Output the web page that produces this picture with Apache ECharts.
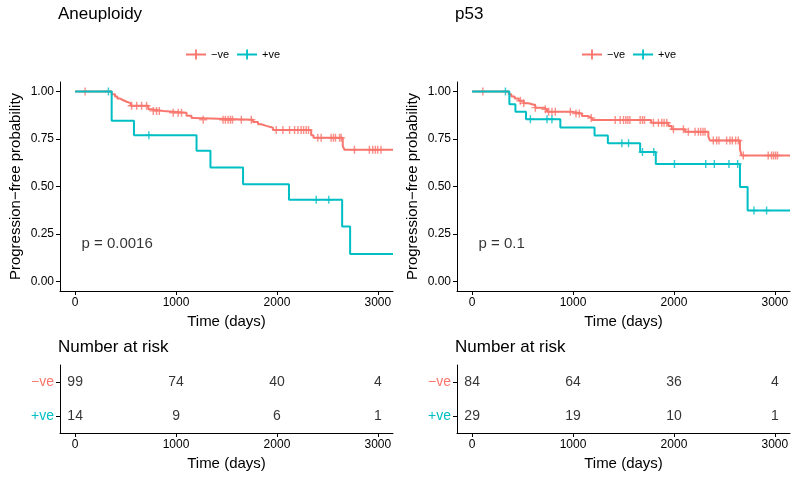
<!DOCTYPE html>
<html>
<head>
<meta charset="utf-8">
<script src="https://cdn.jsdelivr.net/npm/echarts@6/dist/echarts.min.js"></script>
<style>
  html, body { margin: 0; padding: 0; background: #fff; }
  #chart { width: 800px; height: 479px; }
</style>
</head>
<body>
<div id="chart"></div>
<script>
// groups and axis ticks
var groups = ['−ve', '+ve'];
var timeTicks = [0, 1000, 2000, 3000];
var survTicks = [0, 0.25, 0.5, 0.75, 1];

// Aneuploidy curves (time in days, survival)
var aneuNegTime = [0, 362, 395, 418, 445, 478, 511, 550, 725, 758, 873, 1104, 1153, 1176, 1763, 1812, 1845, 1895, 1961, 2339, 2362, 2652, 2669, 3150];
var aneuNegSurv = [1, 0.986, 0.974, 0.963, 0.954, 0.946, 0.939, 0.925, 0.907, 0.898, 0.888, 0.872, 0.861, 0.851, 0.840, 0.828, 0.819, 0.809, 0.798, 0.770, 0.756, 0.714, 0.693, 0.693];
var aneuNegCens = [99, 560, 610, 659, 708, 774, 807, 834, 972, 1021, 1054, 1269, 1466, 1489, 1516, 1539, 1559, 1647, 1746, 1993, 2059, 2125, 2175, 2208, 2240, 2264, 2290, 2313, 2405, 2438, 2537, 2560, 2580, 2620, 2636, 2768, 2916, 2949, 2975, 2998, 3031];

var aneuPosTime = [0, 362, 583, 1203, 1341, 1664, 2119, 2646, 2725, 3150];
var aneuPosSurv = [1, 0.846, 0.770, 0.688, 0.600, 0.512, 0.430, 0.290, 0.145, 0.145];
var aneuPosCens = [330, 731, 2389, 2514];

// p53 curves
var p53NegTime = [0, 363, 389, 422, 462, 511, 560, 626, 709, 742, 989, 1088, 1147, 1187, 1774, 1945, 1978, 2110, 2341, 2357, 2654, 2671, 3150];
var p53NegSurv = [1, 0.986, 0.974, 0.963, 0.951, 0.938, 0.928, 0.915, 0.907, 0.894, 0.884, 0.871, 0.861, 0.850, 0.836, 0.818, 0.801, 0.788, 0.762, 0.742, 0.695, 0.663, 0.663];
var p53NegCens = [106, 478, 511, 626, 725, 758, 791, 824, 973, 1029, 1062, 1180, 1418, 1467, 1500, 1523, 1543, 1563, 1665, 1688, 1708, 1797, 1846, 1879, 1902, 1929, 1995, 2094, 2143, 2209, 2242, 2265, 2288, 2308, 2390, 2423, 2446, 2522, 2555, 2578, 2611, 2638, 2687, 2934, 2967, 2987, 3007, 3026];

var p53PosTime = [0, 369, 429, 534, 874, 1213, 1345, 1665, 1820, 2654, 2730, 3150];
var p53PosSurv = [1, 0.933, 0.894, 0.854, 0.810, 0.769, 0.727, 0.681, 0.619, 0.497, 0.374, 0.374];
var p53PosCens = [330, 577, 742, 791, 1484, 1550, 1688, 1800, 2005, 2315, 2400, 2545, 2631, 2793, 2918];

// numbers at risk
var riskTimes = [0, 1000, 2000, 3000];
var aneuRiskNeg = [99, 74, 40, 4];
var aneuRiskPos = [14, 9, 6, 1];
var p53RiskNeg = [84, 64, 36, 4];
var p53RiskPos = [29, 19, 10, 1];

var pvalPos = [63, 0.2];

var RED = '#F8766D', TEAL = '#00BFC4';
var FONT = 'Liberation Sans, Arial, sans-serif';
var PLUS = 'path://M-0.9,-5 H0.9 V-0.9 H5 V0.9 H0.9 V5 H-0.9 V0.9 H-5 V-0.9 H-0.9 Z';
var LEG_ICON = 'path://M0,4.1 H20 V5.9 H0 Z M9.1,0 H10.9 V10 H9.1 Z';

function survAt(times, surv, t) {
  var v = surv[0];
  for (var i = 0; i < times.length; i++) {
    if (times[i] <= t) v = surv[i];
  }
  return v;
}

function timeAxis(g) {
  return {
    type: 'value', gridIndex: g, min: -150, max: 3150,
    name: 'Time (days)', nameLocation: 'middle', nameGap: 23,
    nameTextStyle: { fontSize: 15, color: '#000', fontFamily: FONT },
    axisLine: { show: true, onZero: false, lineStyle: { color: '#000', width: 1 } },
    axisTick: { show: true, length: 4, lineStyle: { color: '#000' }, customValues: timeTicks },
    axisLabel: {
      fontSize: 12, color: '#000', margin: 6, fontFamily: FONT, customValues: timeTicks,
      formatter: function (v) { return String(v); }
    },
    splitLine: { show: false }
  };
}

function survAxis(g) {
  return {
    type: 'value', gridIndex: g, min: -0.05, max: 1.05,
    name: 'Progression−free probability', nameLocation: 'middle', nameGap: 37,
    nameTextStyle: { fontSize: 15, color: '#000', fontFamily: FONT },
    axisLine: { show: true, onZero: false, lineStyle: { color: '#000', width: 1 } },
    axisTick: { show: true, length: 4, lineStyle: { color: '#000' }, customValues: survTicks },
    axisLabel: {
      fontSize: 12, color: '#000', margin: 6, fontFamily: FONT, customValues: survTicks,
      formatter: function (v) { return v.toFixed(2); }
    },
    splitLine: { show: false }
  };
}

function riskAxis(g) {
  return {
    type: 'category', gridIndex: g, data: groups, inverse: true,
    axisLine: { show: true, onZero: false, lineStyle: { color: '#000', width: 1 } },
    axisTick: { show: true, alignWithLabel: true, length: 4, lineStyle: { color: '#000' } },
    axisLabel: {
      fontSize: 14, margin: 6, fontFamily: FONT,
      color: function (v) { return v === '−ve' ? RED : TEAL; }
    },
    splitLine: { show: false }
  };
}

function kmLine(g, name, times, surv, color) {
  return {
    type: 'line', name: name, xAxisIndex: g, yAxisIndex: g, step: 'end',
    symbol: 'none', silent: true,
    data: times.map(function (t, i) { return [t, surv[i]]; }),
    lineStyle: { color: color, width: 2 }, itemStyle: { color: color }
  };
}

function censors(g, times, surv, cens, color) {
  return {
    type: 'scatter', xAxisIndex: g, yAxisIndex: g, symbol: PLUS, symbolSize: 8, silent: true,
    data: cens.map(function (t) { return [t, survAt(times, surv, t)]; }),
    itemStyle: { color: color }
  };
}

function riskRow(g, group, vals) {
  return {
    type: 'scatter', xAxisIndex: g, yAxisIndex: g, symbolSize: 0, silent: true,
    data: riskTimes.map(function (t, i) { return [t, group, vals[i]]; }),
    label: {
      show: true, position: 'inside', fontSize: 14, color: '#000', fontFamily: FONT,
      formatter: function (p) { return p.data[2]; }
    }
  };
}

function pval(g, text) {
  return {
    type: 'scatter', xAxisIndex: g, yAxisIndex: g, symbolSize: 0, silent: true,
    data: [pvalPos],
    label: { show: true, position: 'right', distance: 0, fontSize: 15, color: '#000', fontFamily: FONT, formatter: text }
  };
}

function legendAt(left) {
  return {
    left: left, top: 44, itemWidth: 20, itemHeight: 10, itemGap: 8,
    textStyle: { fontSize: 11, color: '#000', fontFamily: FONT },
    data: [{ name: '−ve', icon: LEG_ICON }, { name: '+ve', icon: LEG_ICON }],
    selectedMode: false
  };
}

var titleStyle = { fontSize: 17, fontWeight: 'normal', color: '#000', fontFamily: FONT };

var chart = echarts.init(document.getElementById('chart'));
chart.setOption({
  animation: false,
  backgroundColor: '#fff',
  title: [
    { text: 'Aneuploidy', left: 58, top: 6, padding: 0, textStyle: titleStyle },
    { text: 'p53', left: 455, top: 6, padding: 0, textStyle: titleStyle },
    { text: 'Number at risk', left: 58, top: 339, padding: 0, textStyle: titleStyle },
    { text: 'Number at risk', left: 455, top: 339, padding: 0, textStyle: titleStyle }
  ],
  legend: [legendAt(181), legendAt(577)],
  grid: [
    { left: 60, top: 82, width: 333, height: 209 },
    { left: 457, top: 82, width: 333, height: 209 },
    { left: 60, top: 365, width: 333, height: 68 },
    { left: 457, top: 365, width: 333, height: 68 }
  ],
  xAxis: [timeAxis(0), timeAxis(1), timeAxis(2), timeAxis(3)],
  yAxis: [survAxis(0), survAxis(1), riskAxis(2), riskAxis(3)],
  series: [
    kmLine(0, '−ve', aneuNegTime, aneuNegSurv, RED),
    kmLine(0, '+ve', aneuPosTime, aneuPosSurv, TEAL),
    censors(0, aneuNegTime, aneuNegSurv, aneuNegCens, RED),
    censors(0, aneuPosTime, aneuPosSurv, aneuPosCens, TEAL),
    pval(0, 'p = 0.0016'),
    kmLine(1, '−ve', p53NegTime, p53NegSurv, RED),
    kmLine(1, '+ve', p53PosTime, p53PosSurv, TEAL),
    censors(1, p53NegTime, p53NegSurv, p53NegCens, RED),
    censors(1, p53PosTime, p53PosSurv, p53PosCens, TEAL),
    pval(1, 'p = 0.1'),
    riskRow(2, '−ve', aneuRiskNeg),
    riskRow(2, '+ve', aneuRiskPos),
    riskRow(3, '−ve', p53RiskNeg),
    riskRow(3, '+ve', p53RiskPos)
  ]
});
</script>
</body>
</html>
